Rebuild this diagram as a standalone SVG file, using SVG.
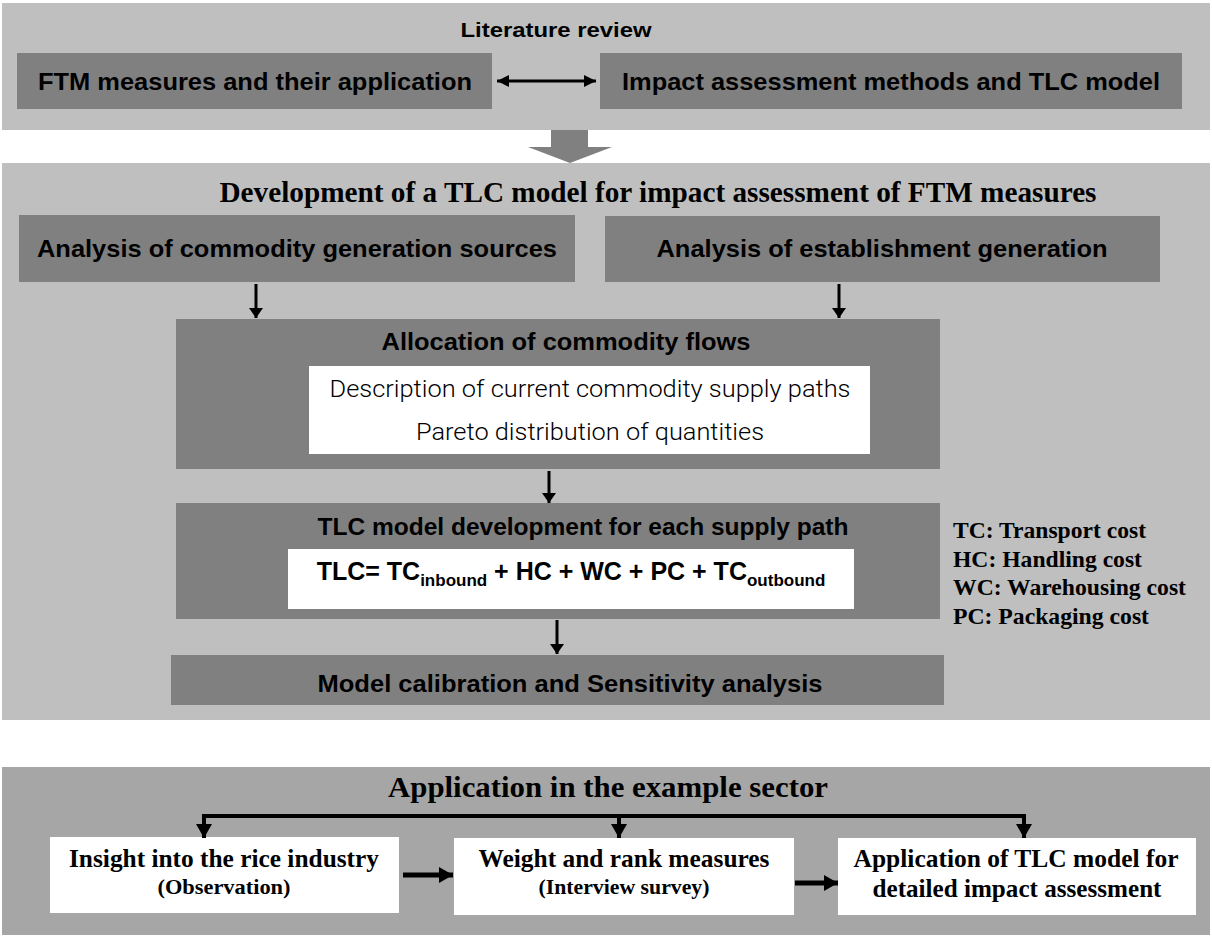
<svg xmlns="http://www.w3.org/2000/svg" width="1212" height="938" viewBox="0 0 1212 938">
<style>
.panel{fill:#bfbfbf}
.panel2{fill:#a6a6a6}
.box{fill:#808080}
.wbox{fill:#ffffff}
.sans{font-family:"Liberation Sans",Arial,sans-serif;font-weight:bold;fill:#000}
.serif{font-family:"Liberation Serif","Times New Roman",serif;font-weight:bold;fill:#000}
.light{font-family:Roboto,Lato,"Open Sans",sans-serif;font-weight:300;fill:#000}
.c{text-anchor:middle}
.conn{stroke:#000;fill:none}
</style>
<defs>
<marker id="ah" markerUnits="userSpaceOnUse" markerWidth="14" markerHeight="12" refX="12" refY="6" orient="auto-start-reverse">
<path d="M0,0 L12,6 L0,12 Z" fill="#000"/>
</marker>
<marker id="ahv" markerUnits="userSpaceOnUse" markerWidth="12" markerHeight="14" refX="10" refY="7" orient="auto">
<path d="M0,0 L10,7 L0,14 Z" fill="#000"/>
</marker>
<marker id="ahb" markerUnits="userSpaceOnUse" markerWidth="16" markerHeight="16" refX="14" refY="8" orient="auto">
<path d="M0,0 L14,8 L0,16 Z" fill="#000"/>
</marker>
</defs>

<!-- Panel 1 -->
<g id="panel-literature">
<rect class="panel" x="2" y="3" width="1208" height="127"/>
<text class="sans c" x="556" y="37" font-size="21" textLength="191" lengthAdjust="spacingAndGlyphs">Literature review</text>
</g>
<g id="node-ftm">
<rect class="box" x="17" y="53" width="475" height="56"/>
<text class="sans c" x="255" y="90" font-size="24" textLength="434" lengthAdjust="spacingAndGlyphs">FTM measures and their application</text>
</g>
<g id="node-impact">
<rect class="box" x="600" y="53" width="582" height="56"/>
<text class="sans c" x="891" y="90" font-size="24" textLength="538" lengthAdjust="spacingAndGlyphs">Impact assessment methods and TLC model</text>
</g>

<!-- Block arrow -->
<g id="block-arrow">
<polygon points="551,130 588,130 588,147 612,147 570,163 528,147 551,147" fill="#808080"/>
</g>

<!-- Panel 2 -->
<g id="panel-development">
<rect class="panel" x="2" y="163" width="1208" height="557"/>
<text class="serif c" x="658" y="202" font-size="29" textLength="877" lengthAdjust="spacingAndGlyphs">Development of a TLC model for impact assessment of FTM measures</text>
</g>
<g id="node-commodity">
<rect class="box" x="19" y="215" width="556" height="67"/>
<text class="sans c" x="297" y="257" font-size="24" textLength="520" lengthAdjust="spacingAndGlyphs">Analysis of commodity generation sources</text>
</g>
<g id="node-establishment">
<rect class="box" x="605" y="216" width="555" height="66"/>
<text class="sans c" x="882" y="257" font-size="24" textLength="451" lengthAdjust="spacingAndGlyphs">Analysis of establishment generation</text>
</g>
<g id="node-allocation">
<rect class="box" x="176" y="319" width="764" height="150"/>
<text class="sans c" x="566" y="350" font-size="24" textLength="369" lengthAdjust="spacingAndGlyphs">Allocation of commodity flows</text>
<rect class="wbox" x="309" y="366" width="561" height="88"/>
<text class="light c" x="590" y="397" font-size="24" textLength="521" lengthAdjust="spacingAndGlyphs">Description of current commodity supply paths</text>
<text class="light c" x="590" y="440" font-size="24" textLength="348" lengthAdjust="spacingAndGlyphs">Pareto distribution of quantities</text>
</g>
<g id="node-tlc">
<rect class="box" x="176" y="503" width="764" height="116"/>
<text class="sans c" x="583" y="535" font-size="24" textLength="531" lengthAdjust="spacingAndGlyphs">TLC model development for each supply path</text>
<rect class="wbox" x="288" y="549" width="566" height="60"/>
<text class="sans c" x="571" y="580" font-size="25">TLC= TC<tspan font-size="17" dy="6">inbound</tspan><tspan dy="-6"> + HC + WC + PC + TC</tspan><tspan font-size="17" dy="6">outbound</tspan></text>
</g>
<g id="node-calibration">
<rect class="box" x="171" y="655" width="773" height="50"/>
<text class="sans c" x="570" y="692" font-size="24" textLength="505" lengthAdjust="spacingAndGlyphs">Model calibration and Sensitivity analysis</text>
</g>
<g id="legend">
<text class="serif" x="953" y="538" font-size="22.5" textLength="193" lengthAdjust="spacingAndGlyphs">TC: Transport cost</text>
<text class="serif" x="953" y="567" font-size="22.5" textLength="189" lengthAdjust="spacingAndGlyphs">HC: Handling cost</text>
<text class="serif" x="953" y="595" font-size="22.5" textLength="233" lengthAdjust="spacingAndGlyphs">WC: Warehousing cost</text>
<text class="serif" x="953" y="624" font-size="22.5" textLength="196" lengthAdjust="spacingAndGlyphs">PC: Packaging cost</text>
</g>

<!-- Panel 3 -->
<g id="panel-application">
<rect class="panel2" x="2" y="767" width="1208" height="168"/>
<text class="serif c" x="608" y="797" font-size="29" textLength="440" lengthAdjust="spacingAndGlyphs">Application in the example sector</text>
</g>
<g id="node-insight">
<rect class="wbox" x="50" y="837" width="349" height="76"/>
<text class="serif c" x="224" y="867" font-size="25" textLength="310" lengthAdjust="spacingAndGlyphs">Insight into the rice industry</text>
<text class="serif c" x="224" y="894" font-size="20" textLength="133" lengthAdjust="spacingAndGlyphs">(Observation)</text>
</g>
<g id="node-weight">
<rect class="wbox" x="454" y="838" width="340" height="77"/>
<text class="serif c" x="624" y="867" font-size="25" textLength="291" lengthAdjust="spacingAndGlyphs">Weight and rank measures</text>
<text class="serif c" x="624" y="894" font-size="20" textLength="171" lengthAdjust="spacingAndGlyphs">(Interview survey)</text>
</g>
<g id="node-app-tlc">
<rect class="wbox" x="838" y="838" width="358" height="77"/>
<text class="serif c" x="1016" y="867" font-size="25" textLength="325" lengthAdjust="spacingAndGlyphs">Application of TLC model for</text>
<text class="serif c" x="1017" y="897" font-size="25" textLength="289" lengthAdjust="spacingAndGlyphs">detailed impact assessment</text>
</g>

<!-- Connectors -->
<g id="connectors">
<line class="conn" x1="497" y1="81" x2="596" y2="81" stroke-width="3" marker-start="url(#ah)" marker-end="url(#ah)"/>
<line class="conn" x1="256" y1="284" x2="256" y2="318" stroke-width="3" marker-end="url(#ahv)"/>
<line class="conn" x1="839" y1="284" x2="839" y2="318" stroke-width="3" marker-end="url(#ahv)"/>
<line class="conn" x1="549" y1="471" x2="549" y2="503" stroke-width="3" marker-end="url(#ahv)"/>
<line class="conn" x1="557" y1="620" x2="557" y2="654" stroke-width="3" marker-end="url(#ahv)"/>
<polyline class="conn" points="204,837 204,816 1024,816 1024,837" stroke-width="4" stroke-linejoin="miter"/>
<line class="conn" x1="204" y1="818" x2="204" y2="838" stroke-width="4" marker-end="url(#ahb)"/>
<line class="conn" x1="619" y1="816" x2="619" y2="838" stroke-width="4" marker-end="url(#ahb)"/>
<line class="conn" x1="1024" y1="818" x2="1024" y2="838" stroke-width="4" marker-end="url(#ahb)"/>
<line class="conn" x1="403" y1="875" x2="453" y2="875" stroke-width="5" marker-end="url(#ahb)"/>
<line class="conn" x1="795" y1="883" x2="838" y2="883" stroke-width="5" marker-end="url(#ahb)"/>
</g>
</svg>
